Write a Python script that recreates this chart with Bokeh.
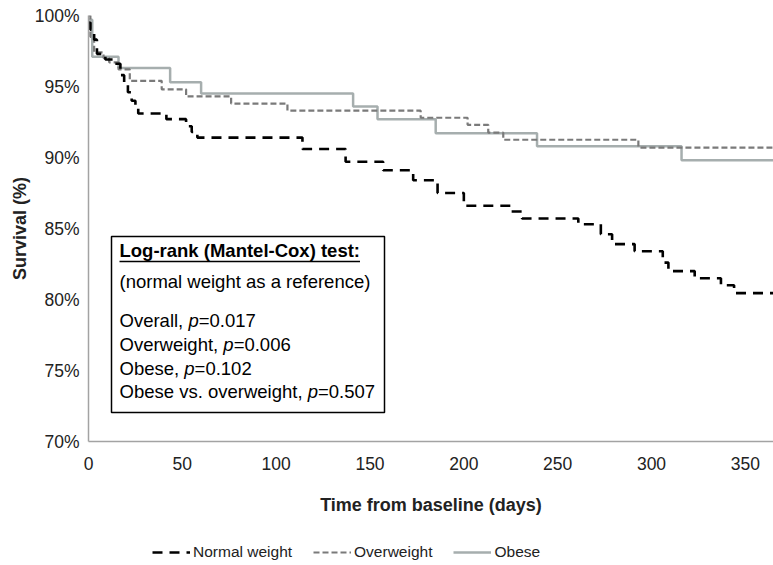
from bokeh.plotting import figure
from bokeh.layouts import column
from bokeh.models import Legend, FixedTicker, PrintfTickFormatter, Range1d, BoxAnnotation
from bokeh.core.properties import value
from bokeh.embed import file_html
from bokeh.resources import INLINE

# ---------------- data ----------------
normal_days = [0, 1, 3, 4.5, 9, 14, 17, 19, 21, 23, 25, 26.5, 41.5, 52, 55, 58, 114, 137, 157,
               173, 186, 200, 225, 231, 261, 273, 279, 291, 306, 309, 323, 337, 344, 365]
normal_surv = [99.5, 99.0, 98.3, 97.3, 96.9, 96.6, 95.8, 95.2, 94.6, 94.0, 93.6, 93.1, 92.7, 92.2,
               91.8, 91.4, 90.6, 89.7, 89.1, 88.4, 87.5, 86.6, 86.2, 85.7, 85.3, 84.6, 83.9, 83.4,
               82.6, 82.0, 81.5, 81.0, 80.45, 80.45]

over_days = [0, 1, 3, 8, 11, 16, 22, 39, 52, 76, 106, 177, 202, 213, 221, 293, 365]
over_surv = [100.0, 98.5, 97.4, 97.0, 96.7, 96.2, 95.4, 94.8, 94.3, 93.8, 93.3, 92.8, 92.3,
             91.75, 91.25, 90.7, 90.7]

obese_days = [0, 2, 16, 43.5, 60, 141, 154, 185, 239, 316, 365]
obese_surv = [99.7, 97.1, 96.3, 95.3, 94.5, 93.6, 92.7, 91.7, 90.8, 89.8, 89.8]

series_names = ["Normal weight", "Overweight", "Obese"]
x_ticks = [0, 50, 100, 150, 200, 250, 300, 350]
y_ticks = [70, 75, 80, 85, 90, 95, 100]

box_title = "Log-rank (Mantel-Cox) test:"
box_subtitle = "(normal weight as a reference)"
stat_labels = ["Overall", "Overweight", "Obese", "Obese vs. overweight"]
stat_pvalues = ["0.017", "0.006", "0.102", "0.507"]

# ---------------- styles ----------------
FONT = "Liberation Sans"
TXT = "#222222"
C_NORMAL, C_OVER, C_OBESE = "#000000", "#7a7a7a", "#a6aeae"
STYLE_NORMAL = dict(line_color=C_NORMAL, line_width=2.6, line_dash="10 7")
STYLE_OVER = dict(line_color=C_OVER, line_width=2.2, line_dash="6 3")
STYLE_OBESE = dict(line_color=C_OBESE, line_width=2.5)

# ---------------- layout ----------------
W = 773
H_MAIN, H_LEG = 535, 30
BL, BR, BT = 88, 0, 15
FW, FH = W - BL - BR, 426
BB = H_MAIN - BT - FH
ppd = FW / 365.0
ppp = FH / 30.0


def dx(px):
    return px / ppd


def dy(page_y):
    return 100 - (page_y - BT) / ppp


AW = {' ': 278, ',': 278, '.': 278, 'O': 778, 'v': 500, 'e': 556, 'r': 333, 'a': 556,
      'l': 222, 'w': 722, 'i': 222, 'g': 556, 'h': 556, 't': 278, 'b': 556, 's': 500,
      'o': 556, 'p': 556}


def text_w(s, fs):
    return sum(AW.get(c, 556) for c in s) * fs / 1000.0


p = figure(width=W, height=H_MAIN, output_backend="svg", toolbar_location=None,
           x_range=Range1d(0, 365), y_range=Range1d(70, 100),
           min_border_left=BL, min_border_right=BR, min_border_top=BT, min_border_bottom=BB)
p.outline_line_color = None
p.grid.visible = False
p.background_fill_color = "white"
p.border_fill_color = "white"

for ax in (p.xaxis[0], p.yaxis[0]):
    ax.axis_line_color = "#a3a3a3"
    ax.axis_line_width = 1.5
    ax.major_tick_line_color = None
    ax.minor_tick_line_color = None
    ax.major_label_text_font = FONT
    ax.major_label_text_font_size = "17.5px"
    ax.major_label_text_color = TXT
    ax.axis_label_text_font = FONT
    ax.axis_label_text_font_size = "18px"
    ax.axis_label_text_font_style = "bold"
    ax.axis_label_text_color = TXT

p.xaxis.ticker = FixedTicker(ticks=x_ticks)
p.yaxis.ticker = FixedTicker(ticks=y_ticks)
p.yaxis.formatter = PrintfTickFormatter(format="%d%%")
p.xaxis.axis_label = "Time from baseline (days)"
p.yaxis.axis_label = "Survival (%)"
p.xaxis.major_label_standoff = 9
p.xaxis.axis_label_standoff = 22
p.yaxis.major_label_standoff = 3
p.yaxis.axis_label_standoff = 2

r_ob = p.step(obese_days, obese_surv, mode="after", **STYLE_OBESE)
r_ov = p.step(over_days, over_surv, mode="after", **STYLE_OVER)
r_n = p.step(normal_days, normal_surv, mode="after", **STYLE_NORMAL)

# ---------------- text box ----------------
FS = 18.5
box = BoxAnnotation(left=dx(23), right=dx(296), top=dy(236), bottom=dy(412),
                    fill_color="white", fill_alpha=1.0, line_color="black", line_alpha=1.0,
                    line_width=1.5)
p.add_layout(box)

tx = dx(31)
p.text(x=[tx], y=[dy(250)], text=[box_title], text_font=value(FONT),
       text_font_size=f"{FS}px", text_font_style="bold", text_baseline="middle",
       text_color="black", level="overlay")
title_w = 13.0 * FS
p.segment(x0=[tx], y0=[dy(261)], x1=[tx + dx(title_w)], y1=[dy(261)],
          line_color="black", line_width=1.5, level="overlay")
p.text(x=[tx], y=[dy(281)], text=[box_subtitle], text_font=value(FONT),
       text_font_size=f"{FS}px", text_baseline="middle", text_color="black", level="overlay")

rows_y = [320, 344, 368, 391]
for lab, pv, ry in zip(stat_labels, stat_pvalues, rows_y):
    pre = lab + ", "
    wpre = text_w(pre, FS)
    wp = text_w("p", FS)
    p.text(x=[tx], y=[dy(ry)], text=[pre], text_font=value(FONT), text_font_size=f"{FS}px",
           text_baseline="middle", text_color="black", level="overlay")
    p.text(x=[tx], y=[dy(ry)], text=["p"], x_offset=wpre, text_font=value(FONT),
           text_font_size=f"{FS}px", text_font_style="italic", text_baseline="middle",
           text_color="black", level="overlay")
    p.text(x=[tx], y=[dy(ry)], text=["=" + pv], x_offset=wpre + wp, text_font=value(FONT),
           text_font_size=f"{FS}px", text_baseline="middle", text_color="black",
           level="overlay")

# ---------------- legend (own strip below the chart) ----------------
pl = figure(width=W, height=H_LEG, output_backend="svg", toolbar_location=None,
            x_range=Range1d(0, 365), y_range=Range1d(0, 1),
            x_axis_location=None, y_axis_location=None,
            min_border_left=0, min_border_right=0, min_border_top=0, min_border_bottom=0)
pl.grid.visible = False
pl.outline_line_color = None
pl.background_fill_color = "white"
pl.border_fill_color = "white"
# same series, outside the strip's visible y-range: only their legend glyphs show
lg_n = pl.step(normal_days, normal_surv, mode="after", **STYLE_NORMAL)
lg_ov = pl.step(over_days, over_surv, mode="after", **STYLE_OVER)
lg_ob = pl.step(obese_days, obese_surv, mode="after", **STYLE_OBESE)

legend = Legend(items=[(series_names[0], [lg_n]), (series_names[1], [lg_ov]),
                       (series_names[2], [lg_ob])],
                orientation="horizontal", location=(64, 3),
                label_text_font=FONT, label_text_font_size="15.5px", label_text_color=TXT,
                glyph_width=38, glyph_height=20, label_height=20, label_standoff=3,
                spacing=21, padding=0, margin=0, border_line_color=None,
                background_fill_alpha=0)
pl.add_layout(legend)

layout = column(p, pl, spacing=0)
open("out.html", "w").write(file_html(layout, INLINE))
